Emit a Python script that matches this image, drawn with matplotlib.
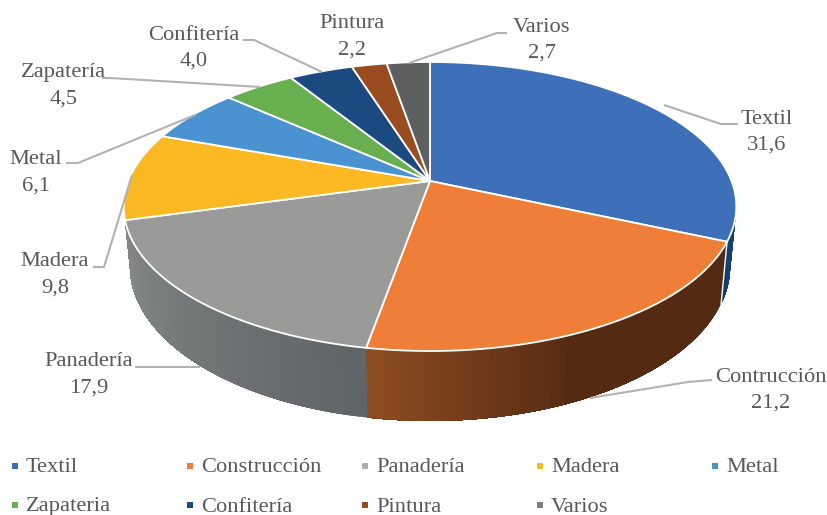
import numpy as np
import matplotlib
matplotlib.use("Agg")
import matplotlib.pyplot as plt
from matplotlib.collections import PolyCollection
from matplotlib.colors import to_rgb

# ---------- data ----------
categories = ["Textil", "Contrucción", "Panadería", "Madera", "Metal",
              "Zapatería", "Confitería", "Pintura", "Varios"]
values = [31.6, 21.2, 17.9, 9.8, 6.1, 4.5, 4.0, 2.2, 2.7]
value_labels = ["31,6", "21,2", "17,9", "9,8", "6,1", "4,5", "4,0", "2,2", "2,7"]
legend_labels = ["Textil", "Construcción", "Panadería", "Madera", "Metal",
                 "Zapateria", "Confitería", "Pintura", "Varios"]
colors = ["#3E70B9", "#EF7F38", "#9A9A99", "#FAB822", "#4A93D0",
          "#68AF50", "#1A4A80", "#984C20", "#5E5F5F"]

# ---------- layout ----------
W, H = 828, 515
CX, CY = 430.0, 181.0       # apex of the slices on the top face
A, B, K = 301.5, 140.0, 0.1765   # projective circle
DEPTH, SHRINK = 57.6, 0.98  # wall height and convergence
TEXT = "#595959"
LEAD = "#B2B2B2"
plt.rcParams["font.family"] = ["Liberation Serif", "DejaVu Serif"]
FS = 16.2


def top(theta):
    den = 1 + K * np.cos(theta)
    return CX + A * np.sin(theta) / den, CY - B * np.cos(theta) / den


def bottom(theta):
    x, y = top(theta)
    return CX + (x - CX) * SHRINK, y + DEPTH / (1 + K * np.cos(theta))


fig = plt.figure(figsize=(W / 100, H / 100), dpi=100, facecolor="white")
ax = fig.add_axes([0, 0, 1, 1])
ax.set_xlim(0, W)
ax.set_ylim(H, 0)
ax.axis("off")

edges = np.radians(np.concatenate([[0], np.cumsum(values)]) / np.sum(values) * 360)

# ---------- side walls (only the slices that face the viewer) ----------
wall_shades = {0: ("#123F70", "#123F70"),
               1: ("#542A12", "#8E4C22"),
               2: ("#5F6466", "#858989")}
vis_limits = {0: (np.radians(101), edges[1]),
              1: (edges[1], edges[2]),
              2: (edges[2], edges[3])}
for i, (c_start, c_end) in wall_shades.items():
    t0, t1 = vis_limits[i]
    ts = np.linspace(t0, t1, 60)
    c0 = np.array(to_rgb(c_start))
    c1 = np.array(to_rgb(c_end))
    # painted one after another, each band reaching to the far end of the slice,
    # so no seams show between neighbouring bands
    for j in range(len(ts) - 1):
        sub = np.linspace(ts[j], t1, 80)
        xa, ya = top(sub)
        xb, yb = bottom(sub)
        f = j / (len(ts) - 2)
        if i == 1:      # brown: flat on the right, warming towards the left end
            f = max(0.0, (f - 0.55) / 0.45)
        poly = np.column_stack([np.r_[xa, xb[::-1]], np.r_[ya, yb[::-1]]])
        ax.add_collection(PolyCollection([poly], facecolors=[c0 + (c1 - c0) * f],
                                         linewidths=0, zorder=2))

# white seam between the Textil and Construction walls
seam = edges[1]
ax.plot([top(seam)[0], bottom(seam)[0]], [top(seam)[1], bottom(seam)[1]],
        color="white", lw=1.0, zorder=3)

# ---------- top face ----------
for i in range(len(values)):
    ts = np.linspace(edges[i], edges[i + 1], 120)
    xs, ys = top(ts)
    ax.fill(np.r_[CX, xs], np.r_[CY, ys], facecolor=colors[i],
            edgecolor="white", lw=1.3, joinstyle="round", zorder=4)

# ---------- leader lines ----------
leaders = {
    0: [(738, 124), (721, 124), (664, 105)],
    1: [(712, 380), (688, 382), (590, 398)],
    2: [(135, 367), (200, 367)],
    3: [(93, 267), (104, 267), (132, 175)],
    4: [(66, 163), (78, 163), (195, 115)],
    5: [(102, 78), (110, 78), (260, 87)],
    6: [(243, 40), (254, 40), (322, 72)],
    8: [(507, 33), (497, 33), (409, 63)],
}
for pts in leaders.values():
    p = np.array(pts)
    ax.plot(p[:, 0], p[:, 1], color=LEAD, lw=1.5, zorder=5, solid_capstyle="butt")

# ---------- data labels ----------
label_pos = [(767, 119), (771, 377), (89, 362), (55, 262), (36, 160),
             (64, 73), (194, 35), (352, 24), (542, 27)]
for name, val, (x, y) in zip(categories, value_labels, label_pos):
    ax.text(x, y, name, ha="center", va="center", color=TEXT, fontsize=FS, zorder=6)
    ax.text(x, y + 26, val, ha="center", va="center", color=TEXT, fontsize=FS, zorder=6)

# ---------- legend ----------
col_x = [15, 190, 365, 540, 715]
row_y = [466, 505]
for i, name in enumerate(legend_labels):
    x = col_x[i % 5]
    y = row_y[i // 5]
    c = "#B0B0B0" if i == 2 else ("#7F7F7F" if i == 8 else colors[i])
    ax.scatter([x], [y], marker="s", s=16, color=c, linewidths=0, zorder=6)
    ax.text(x + 11, y + 2, name, ha="left", va="center", color=TEXT, fontsize=FS, zorder=6)

fig.savefig("out.png", dpi=100, facecolor="white")
